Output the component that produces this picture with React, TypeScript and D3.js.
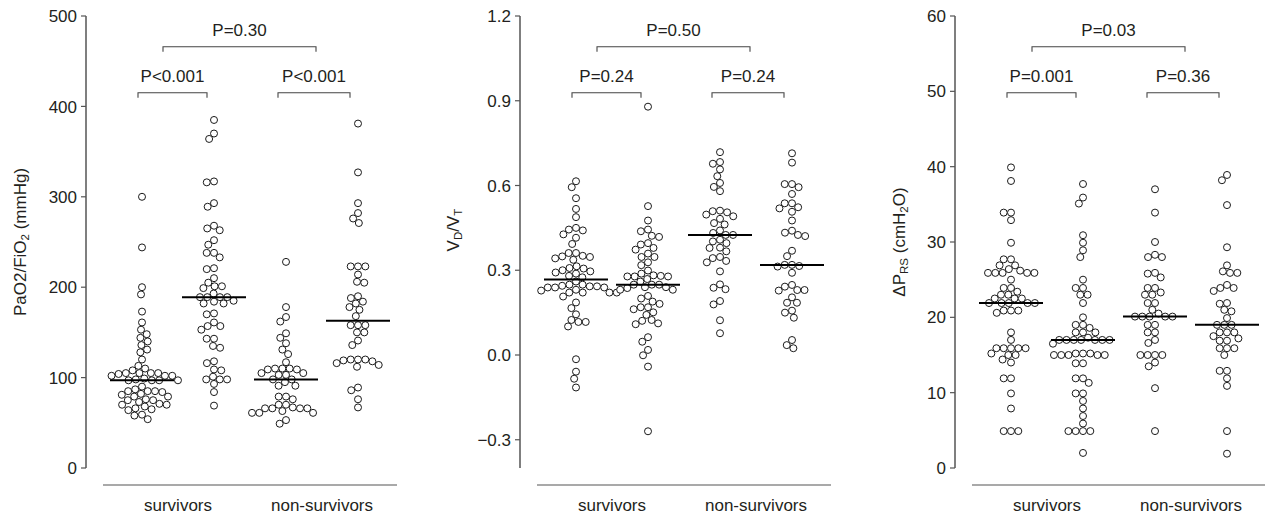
import React from "react";
import * as d3 from "d3";

// ---------- data ----------
const groupKeys = ["survA", "survB", "nonA", "nonB"];
const categories = ["survivors", "non-survivors"];

// PaO2/FiO2 (mmHg)
const pfSurvA = [300, 244, 200, 192, 173, 161, 153, 148, 144, 140, 136, 131, 128, 120, 113, 110, 108, 105, 105, 105, 105, 104, 102, 102, 102, 99, 98, 97, 97, 97, 97, 90, 87, 85, 85, 85, 84, 82, 81, 79, 79, 76, 75, 75, 73, 71, 70, 70, 68, 66, 65, 64, 59, 58, 54];
const pfSurvB = [385, 370, 364, 317, 316, 293, 289, 268, 265, 263, 252, 247, 238, 238, 233, 221, 220, 210, 205, 201, 201, 199, 193, 189, 189, 189, 189, 185, 184, 182, 182, 171, 170, 161, 157, 157, 153, 143, 143, 135, 133, 118, 116, 109, 108, 101, 98, 98, 98, 93, 84, 69];
const pfNonA = [228, 178, 167, 162, 149, 144, 138, 131, 126, 117, 110, 110, 110, 109, 109, 105, 105, 103, 103, 98, 98, 95, 91, 91, 79, 79, 76, 70, 70, 67, 66, 66, 66, 66, 63, 61, 61, 61, 53, 49];
const pfNonB = [381, 327, 293, 282, 276, 271, 223, 223, 223, 214, 206, 205, 190, 188, 184, 182, 178, 175, 168, 158, 158, 158, 150, 150, 141, 136, 120, 120, 120, 119, 118, 116, 114, 112, 89, 86, 76, 67];
const pfTicks = [0, 100, 200, 300, 400, 500];
const pfPvalues = ["P<0.001", "P<0.001", "P=0.30"];

// VD/VT
const vdSurvA = [0.615, 0.594, 0.555, 0.517, 0.488, 0.45, 0.444, 0.441, 0.427, 0.415, 0.393, 0.361, 0.361, 0.351, 0.349, 0.347, 0.342, 0.337, 0.314, 0.308, 0.306, 0.3, 0.296, 0.292, 0.288, 0.28, 0.275, 0.26, 0.249, 0.249, 0.245, 0.243, 0.243, 0.239, 0.239, 0.239, 0.231, 0.228, 0.221, 0.221, 0.221, 0.221, 0.207, 0.186, 0.166, 0.144, 0.124, 0.117, 0.117, 0.101, -0.015, -0.059, -0.084, -0.115];
const vdSurvB = [0.879, 0.527, 0.476, 0.444, 0.438, 0.422, 0.418, 0.396, 0.391, 0.379, 0.373, 0.359, 0.347, 0.347, 0.328, 0.318, 0.299, 0.288, 0.282, 0.28, 0.278, 0.278, 0.278, 0.269, 0.26, 0.249, 0.249, 0.249, 0.24, 0.24, 0.237, 0.231, 0.231, 0.209, 0.2, 0.189, 0.181, 0.169, 0.169, 0.162, 0.151, 0.142, 0.124, 0.121, 0.112, 0.109, 0.063, 0.047, 0.018, -0.001, -0.041, -0.27];
const vdNonA = [0.718, 0.683, 0.677, 0.657, 0.633, 0.609, 0.595, 0.58, 0.511, 0.509, 0.505, 0.497, 0.491, 0.482, 0.467, 0.462, 0.441, 0.432, 0.425, 0.425, 0.408, 0.402, 0.396, 0.38, 0.379, 0.367, 0.347, 0.343, 0.333, 0.328, 0.296, 0.25, 0.238, 0.233, 0.191, 0.179, 0.123, 0.077];
const vdNonB = [0.714, 0.681, 0.605, 0.605, 0.594, 0.57, 0.537, 0.537, 0.523, 0.519, 0.507, 0.476, 0.44, 0.433, 0.425, 0.421, 0.369, 0.35, 0.319, 0.319, 0.315, 0.313, 0.291, 0.248, 0.242, 0.23, 0.23, 0.228, 0.204, 0.185, 0.185, 0.157, 0.15, 0.132, 0.053, 0.035, 0.024];
const vdTicks = [-0.3, 0, 0.3, 0.6, 0.9, 1.2];
const vdPvalues = ["P=0.24", "P=0.24", "P=0.50"];

// ΔPRS (cmH2O)
const dpSurvA = [39.9, 38.1, 33.9, 33.9, 32.9, 29.9, 27.7, 27.7, 26.9, 26.9, 26.4, 26.2, 25.9, 25.9, 25.9, 25.9, 25.9, 25.0, 23.9, 23.9, 23.4, 23.0, 23.0, 22.5, 22.5, 22.5, 21.9, 21.9, 21.9, 21.9, 21.9, 20.9, 20.9, 20.9, 20.6, 18.0, 17.0, 15.9, 15.9, 15.9, 15.9, 15.9, 15.2, 15.0, 15.0, 14.4, 14.0, 11.9, 11.9, 9.9, 7.9, 4.9, 4.9, 4.9];
const dpSurvB = [37.7, 35.9, 35.1, 30.9, 29.9, 28.9, 28.0, 25.0, 23.9, 23.9, 23.0, 23.0, 21.9, 20.0, 19.0, 19.0, 18.6, 18.0, 18.0, 18.0, 17.3, 17.0, 17.0, 17.0, 16.5, 17.0, 17.0, 17.0, 17.0, 15.2, 15.0, 15.0, 15.0, 15.2, 15.0, 15.0, 15.2, 13.9, 13.9, 11.9, 11.9, 11.3, 9.9, 9.9, 8.9, 7.9, 6.9, 5.9, 4.9, 4.9, 4.9, 4.9, 2.0];
const dpNonA = [37.0, 33.9, 30.0, 28.3, 28.0, 28.0, 25.9, 25.8, 25.3, 23.9, 23.9, 23.3, 23.0, 23.0, 21.9, 21.9, 21.0, 20.5, 20.1, 20.1, 20.1, 20.1, 20.1, 19.0, 19.0, 18.0, 18.0, 17.0, 16.6, 15.0, 15.0, 15.0, 15.0, 14.0, 13.5, 10.6, 4.9];
const dpNonB = [38.9, 38.2, 34.9, 29.3, 26.9, 26.1, 25.9, 25.9, 24.3, 23.9, 23.9, 23.5, 21.9, 21.8, 21.0, 20.8, 19.9, 19.0, 19.0, 19.0, 18.0, 18.0, 18.0, 17.5, 17.2, 16.9, 16.9, 15.9, 15.9, 15.9, 15.0, 12.9, 12.9, 11.9, 10.9, 4.9, 1.9];
const dpTicks = [0, 10, 20, 30, 40, 50, 60];
const dpPvalues = ["P=0.001", "P=0.36", "P=0.03"];

// ---------- layout / style ----------
const FONT = "'Liberation Sans', Arial, Helvetica, sans-serif";
const FS = 17;
const TEXT = "#231f20";
const AXIS = "#555";
const Y_TOP = 16;
const Y_BOT = 468;
const R = 3.5;
const SWARM_D = 7.3;

type Part = { t: string; sub?: boolean };
type Panel = {
  axisX: number;
  domain: [number, number];
  ticks: number[];
  fmt: (v: number) => string;
  label: Part[];
  labelDx: number;
  labelY: number;
  groups: number[][];
  pvals: string[];
};

const panels: Panel[] = [
  {
    axisX: 86,
    domain: [0, 500],
    ticks: pfTicks,
    fmt: d3.format("d"),
    label: [{ t: "PaO2/FiO" }, { t: "2", sub: true }, { t: " (mmHg)" }],
    labelDx: -66,
    labelY: 242,
    groups: [pfSurvA, pfSurvB, pfNonA, pfNonB],
    pvals: pfPvalues,
  },
  {
    axisX: 520,
    domain: [-0.4, 1.2],
    ticks: vdTicks,
    fmt: (v) => d3.format(".1f")(v).replace("-", "\u2212"),
    label: [{ t: "V" }, { t: "D", sub: true }, { t: "/V" }, { t: "T", sub: true }],
    labelDx: -67,
    labelY: 230,
    groups: [vdSurvA, vdSurvB, vdNonA, vdNonB],
    pvals: vdPvalues,
  },
  {
    axisX: 955,
    domain: [0, 60],
    ticks: dpTicks,
    fmt: d3.format("d"),
    label: [{ t: "\u0394P" }, { t: "RS", sub: true }, { t: " (cmH" }, { t: "2", sub: true }, { t: "O)" }],
    labelDx: -56,
    labelY: 242,
    groups: [dpSurvA, dpSurvB, dpNonA, dpNonB],
    pvals: dpPvalues,
  },
];

function swarm(values: number[], y: (v: number) => number, d: number) {
  const pts = values.map((v) => ({ v, y: y(v), x: 0 })).sort((a, b) => b.v - a.v);
  const placed: { x: number; y: number }[] = [];
  for (const p of pts) {
    const ints: [number, number][] = [];
    for (const q of placed) {
      const dy = Math.abs(q.y - p.y);
      if (dy < d) {
        const dx = Math.sqrt(d * d - dy * dy);
        ints.push([q.x - dx, q.x + dx]);
      }
    }
    const cands = [0, ...ints.flatMap((i) => i)].sort((a, b) => Math.abs(a) - Math.abs(b) || a - b);
    for (const c of cands) {
      if (ints.every(([a, b]) => c <= a + 1e-6 || c >= b - 1e-6)) {
        p.x = c;
        break;
      }
    }
    placed.push(p);
  }
  return pts;
}

function PanelView({ p }: { p: Panel }) {
  const y = d3.scaleLinear().domain(p.domain).range([Y_BOT, Y_TOP]);
  const x = d3.scalePoint<string>().domain(groupKeys).range([p.axisX + 56, p.axisX + 272]);
  const catX = categories.map((_, i) => ((x(groupKeys[2 * i]) as number) + (x(groupKeys[2 * i + 1]) as number)) / 2);
  const g = groupKeys.map((k) => x(k) as number);

  const brackets = [
    { x1: g[0] - 4, x2: g[1] - 7, y: 92.7, leg: 5, ty: 82, text: p.pvals[0] },
    { x1: g[2] - 8, x2: g[3] - 8, y: 92.7, leg: 5, ty: 82, text: p.pvals[1] },
    { x1: catX[0] - 15, x2: catX[1] - 6, y: 46.7, leg: 5, ty: 36, text: p.pvals[2] },
  ];

  return (
    <g>
      {/* y axis */}
      <line x1={p.axisX} x2={p.axisX} y1={Y_TOP} y2={Y_BOT} stroke={AXIS} strokeWidth={1.5} />
      {p.ticks.map((t) => (
        <g key={t}>
          <line x1={p.axisX - 5} x2={p.axisX} y1={y(t)} y2={y(t)} stroke={AXIS} strokeWidth={1.2} />
          <text x={p.axisX - 9} y={y(t)} dy="0.36em" textAnchor="end" fontSize={FS} fill={TEXT} fontFamily={FONT}>
            {p.fmt(t)}
          </text>
        </g>
      ))}
      <text
        transform={`translate(${p.axisX + p.labelDx},${p.labelY}) rotate(-90)`}
        textAnchor="middle"
        dy="0.35em"
        fontSize={FS}
        fill={TEXT}
        fontFamily={FONT}
      >
        {p.label.map((part, i) =>
          part.sub ? (
            <tspan key={i} fontSize={11.5} baselineShift="-3">
              {part.t}
            </tspan>
          ) : (
            <tspan key={i}>{part.t}</tspan>
          )
        )}
      </text>

      {/* bottom line and categories */}
      <line x1={p.axisX + 17} x2={p.axisX + 311} y1={485} y2={485} stroke={AXIS} strokeWidth={1.2} />
      {categories.map((c, i) => (
        <text key={c} x={catX[i]} y={511} textAnchor="middle" fontSize={FS} fill={TEXT} fontFamily={FONT}>
          {c}
        </text>
      ))}

      {/* brackets */}
      {brackets.map((b, i) => (
        <g key={i}>
          <path
            d={`M${b.x1},${b.y + b.leg}V${b.y}H${b.x2}V${b.y + b.leg}`}
            fill="none"
            stroke="#444"
            strokeWidth={1.1}
          />
          <text x={(b.x1 + b.x2) / 2} y={b.ty} textAnchor="middle" fontSize={FS} fill={TEXT} fontFamily={FONT}>
            {b.text}
          </text>
        </g>
      ))}

      {/* points */}
      {p.groups.map((vals, gi) => {
        const pts = swarm(vals, (v) => y(v), SWARM_D);
        const med = d3.median(vals) as number;
        return (
          <g key={gi}>
            {pts.map((pt, j) => (
              <circle key={j} cx={g[gi] + pt.x} cy={pt.y} r={R} fill="white" stroke="#1a1a1a" strokeWidth={1} />
            ))}
            <line x1={g[gi] - 32} x2={g[gi] + 32} y1={y(med)} y2={y(med)} stroke="#000" strokeWidth={2} />
          </g>
        );
      })}
    </g>
  );
}

export default function App() {
  return (
    <svg
      width={1265}
      height={515}
      style={{ position: "absolute", left: 0, top: 0, background: "white" }}
    >
      {panels.map((p, i) => (
        <PanelView key={i} p={p} />
      ))}
    </svg>
  );
}
